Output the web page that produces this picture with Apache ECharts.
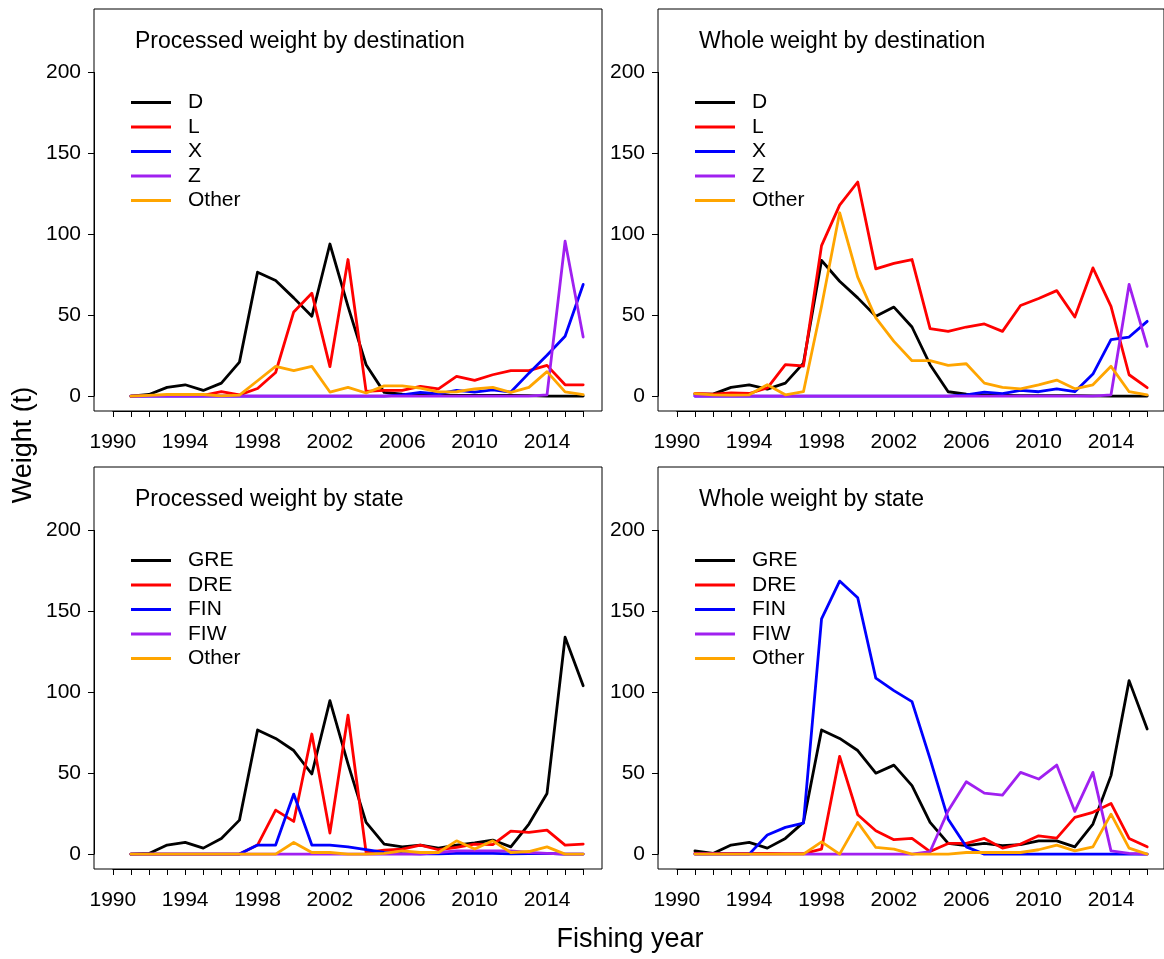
<!DOCTYPE html>
<html>
<head>
<meta charset="utf-8">
<script src="https://cdn.jsdelivr.net/npm/echarts@6/dist/echarts.min.js"></script>
<style>
html,body{margin:0;padding:0;background:#fff;}
#chart{width:1164px;height:959px;}
</style>
</head>
<body>
<div id="chart"></div>
<script>
// ---------- data ----------
const years = [1991,1992,1993,1994,1995,1996,1997,1998,1999,2000,2001,2002,2003,2004,2005,2006,2007,2008,2009,2010,2011,2012,2013,2014,2015,2016];
const xAxisRange = [1990, 2016];   // tick every year, label every 4th year
const xLabelStep = 4;
const yAxisRange = [0, 200];       // ticks 0, 50, 100, 150, 200
const yTickStep = 50;
const yDataMax = 230;              // R-style ylim before 4% expansion

const destNames = ['D','L','X','Z','Other'];
const stateNames = ['GRE','DRE','FIN','FIW','Other'];
const panelTitles = ['Processed weight by destination','Whole weight by destination','Processed weight by state','Whole weight by state'];

// Processed weight by destination
const pd_D = [0,1,5.4,7,3.5,8,21,76.6,71.4,60.7,49.3,94,55.5,19.4,2.3,1.2,0.8,0.6,0.5,0.5,0.4,0.4,0.3,0,0,0];
const pd_L = [0,0.3,0.5,0.5,0.5,2.7,0.8,4.7,14.6,52,63.6,18.2,84.4,2.9,3.5,3.5,6,4.5,12.2,9.7,13.2,15.7,15.7,19,7,7];
const pd_X = [0,0,0,0,0,0,0,0,0,0,0,0,0,0,0,0.8,2.3,1.4,3.5,2.5,3.9,2.5,14.2,25.2,37,69];
const pd_Z = [0,0,0,0,0,0,0,0,0,0,0,0,0,0,0,0,0,0,0,0,0,0,0,0.8,95.7,36.5];
const pd_O = [0,0.5,1,1,1,0.2,0.6,9.5,18.4,15.7,18.4,2.5,5.4,1.9,6.3,6.3,5,2.6,2.7,4.4,5.4,2.3,5.4,15.1,2.6,0.9];

// Whole weight by destination
const wd_D = [1.2,1.2,5.4,7,4.3,8,20.4,83.8,71,60.7,49.3,55,42.7,19.4,2.7,1.2,0.8,0.5,0.3,0.3,0.3,0.3,0.2,0,0,0];
const wd_L = [1.6,1.2,2,1.6,5,19.4,18.6,93,118,132.3,78.6,82,84.4,41.7,40,42.7,44.6,40,56,60.3,65.2,48.9,79.2,55.5,13.2,5.2];
const wd_X = [0,0,0,0,0,0,0,0,0,0,0,0,0,0,0,0.8,2.5,1.6,3.5,2.7,4.5,2.7,13.6,34.9,36.5,46.2];
const wd_Z = [0,0,0,0,0,0,0,0,0,0,0,0,0,0,0,0,0,0,0,0,0,0,0,0.8,69,30.7];
const wd_O = [1.6,0.8,0.6,0.8,7,0.8,2.7,55.5,113.3,73.5,48.3,33.8,21.9,21.9,19,20,8,5.4,4.5,7,9.9,4.5,7,18.4,2.7,0.8];

// Processed weight by state
const ps_GRE = [0,0.4,5.6,7.2,3.7,9.7,21,76.7,71.5,64,49.5,94.8,55.7,19.6,6.2,4.5,5.6,3.7,5.6,7,8.7,4.5,18.6,37.5,134,104];
const ps_DRE = [0,0,0,0,0,0,0,5.6,27.2,20.2,74.2,13,85.8,1,2.5,3.1,5.6,2.7,4.1,6.2,5.8,14.2,13.4,14.8,5.6,6.2];
const ps_FIN = [0,0,0,0,0,0,0,5.6,5.6,37.1,5.6,5.6,4.5,2.7,1,0.4,0.2,0.2,0.4,0.4,0.4,0.2,0.3,0.4,0,0];
const ps_FIW = [0,0,0,0,0,0,0,0,0,0,0,0,0,0,0,0,0,1,2,2,2,2,1,0.5,0,0];
const ps_O = [0,0,0,0,0,0,0,0,0,7.2,1,1,0,0,0.4,2,1,1,8.2,3.1,8.2,1,1.6,4.5,0,0];

// Whole weight by state
const ws_GRE = [2,0.4,5.6,7.2,3.7,9.7,19.6,76.7,71.5,64,50,55,42.3,19.6,6.6,5.2,6.6,5.2,5.8,8.2,8.2,4.5,18.6,48.5,107.2,77.3];
const ws_DRE = [0.5,0.5,0.5,0.5,0.5,0.3,0.3,3.1,60.4,24.3,14.4,8.9,9.7,1.6,6.6,6.6,9.7,3.7,6.2,11.3,9.9,22.7,25.8,31.3,9.7,4.5];
const ws_FIN = [0,0,0,0,11.8,16.5,19.2,145.4,168.7,158.4,108.7,101,94.2,58.8,21.6,4.5,0,0,0,0,0,0,0,0,0,0];
const ws_FIW = [0,0,0,0,0,0,0,0,0,0,0,0,0,1.6,26.8,44.7,37.7,36.5,50.5,46.4,55,26.4,50.5,2,0.4,0];
const ws_O = [0,0,0,0,0,0,0,7.6,0,19.6,4.1,3.1,0,0,0,1,1,1,1,2.7,5.6,2,4.5,24.7,3.7,0];

// ---------- styling / layout ----------
const lineColors = ['#000000','#FF0000','#0000FF','#A020F0','#FFA500'];
const FONT = "'Liberation Sans', Arial, Helvetica, sans-serif";
const panels = [
  {title: panelTitles[0], names: destNames, series: [pd_D,pd_L,pd_X,pd_Z,pd_O], left: 94, top: 9},
  {title: panelTitles[1], names: destNames, series: [wd_D,wd_L,wd_X,wd_Z,wd_O], left: 658, top: 9},
  {title: panelTitles[2], names: stateNames, series: [ps_GRE,ps_DRE,ps_FIN,ps_FIW,ps_O], left: 94, top: 467},
  {title: panelTitles[3], names: stateNames, series: [ws_GRE,ws_DRE,ws_FIN,ws_FIW,ws_O], left: 658, top: 467}
];
// Box (plot region) size; R expands axis ranges by 4% on each side
const GW = 508, GH = 402;
const xSpan = xAxisRange[1] - xAxisRange[0];
const xExp = xSpan * 0.04;
const yExp = yDataMax * 0.04;
const sx = GW / (xSpan + 2 * xExp);
const sy = GH / (yDataMax + 2 * yExp);
const innerLeftOff = xExp * sx;
const innerW = xSpan * sx;
const innerTopOff = (yDataMax + yExp - yAxisRange[1]) * sy;
const innerH = (yAxisRange[1] - yAxisRange[0]) * sy;
const xOffset = yExp * sy;   // distance from value-0 line down to box bottom
const yOffset = xExp * sx;   // distance from 1990 line left to box left

const option = {
  animation: false,
  backgroundColor: '#ffffff',
  textStyle: {fontFamily: FONT},
  title: [], legend: [], grid: [], xAxis: [], yAxis: [], series: [], graphic: []
};

panels.forEach((p, i) => {
  // outer box grid (border only)
  const boxIdx = option.grid.length;
  option.grid.push({left: p.left, top: p.top, width: GW, height: GH, show: true,
    borderColor: '#000', borderWidth: 1, backgroundColor: 'transparent'});
  option.xAxis.push({type: 'value', gridIndex: boxIdx, show: false, min: 0, max: 1});
  option.yAxis.push({type: 'value', gridIndex: boxIdx, show: false, min: 0, max: 1});
  // inner data grid
  const gi = option.grid.length;
  option.grid.push({left: p.left + innerLeftOff, top: p.top + innerTopOff, width: innerW, height: innerH, show: false});
  option.xAxis.push({
    type: 'value', gridIndex: gi, min: xAxisRange[0], max: xAxisRange[1], interval: 1,
    position: 'bottom', offset: xOffset,
    axisLine: {show: true, onZero: false, lineStyle: {color: '#000', width: 1}},
    splitLine: {show: false},
    axisTick: {show: true, inside: false, length: 6, lineStyle: {color: '#000', width: 1}},
    axisLabel: {show: true, margin: 21, color: '#000', fontSize: 21, fontFamily: FONT,
      showMinLabel: true, showMaxLabel: true, hideOverlap: false,
      formatter: v => ((Math.round(v) - xAxisRange[0]) % xLabelStep === 0 ? String(Math.round(v)) : '')}
  });
  option.yAxis.push({
    type: 'value', gridIndex: gi, min: yAxisRange[0], max: yAxisRange[1], interval: yTickStep,
    position: 'left', offset: yOffset,
    axisLine: {show: true, onZero: false, lineStyle: {color: '#000', width: 1}},
    splitLine: {show: false},
    axisTick: {show: true, inside: false, length: 6, lineStyle: {color: '#000', width: 1}},
    axisLabel: {show: true, margin: 13, color: '#000', fontSize: 21, fontFamily: FONT,
      formatter: v => String(Math.round(v))}
  });
  option.title.push({
    text: p.title, left: p.left + 41, top: p.top + 21, padding: 0,
    textStyle: {fontSize: 23, fontWeight: 'normal', color: '#000', fontFamily: FONT}
  });
  option.legend.push({
    data: p.names, orient: 'vertical', left: p.left + 37, top: p.top + 81.5, padding: 0,
    icon: 'rect', itemWidth: 40, itemHeight: 3, itemGap: 0.5, selectedMode: false,
    textStyle: {fontSize: 21, color: '#000', fontFamily: FONT, lineHeight: 24, padding: [0,0,0,12]}
  });
  p.series.forEach((vals, k) => {
    option.series.push({
      type: 'line', name: p.names[k], xAxisIndex: gi, yAxisIndex: gi,
      data: years.map((y, j) => [y, vals[j]]),
      symbol: 'none', showSymbol: false, silent: true, clip: false,
      color: lineColors[k],
      lineStyle: {color: lineColors[k], width: 2.8, join: 'round', cap: 'round'},
      z: 2 + k
    });
  });
});

option.graphic = [
  {type: 'text', x: 630, y: 940, silent: true,
    style: {text: 'Fishing year', fontSize: 27, fontFamily: FONT, fill: '#000', align: 'center', verticalAlign: 'middle'}},
  {type: 'text', x: 24, y: 445, rotation: Math.PI/2, silent: true,
    style: {text: 'Weight (t)', fontSize: 27, fontFamily: FONT, fill: '#000', align: 'center', verticalAlign: 'middle'}}
];

const chart = echarts.init(document.getElementById('chart'), null, {renderer: 'canvas'});
chart.setOption(option);
</script>
</body>
</html>
